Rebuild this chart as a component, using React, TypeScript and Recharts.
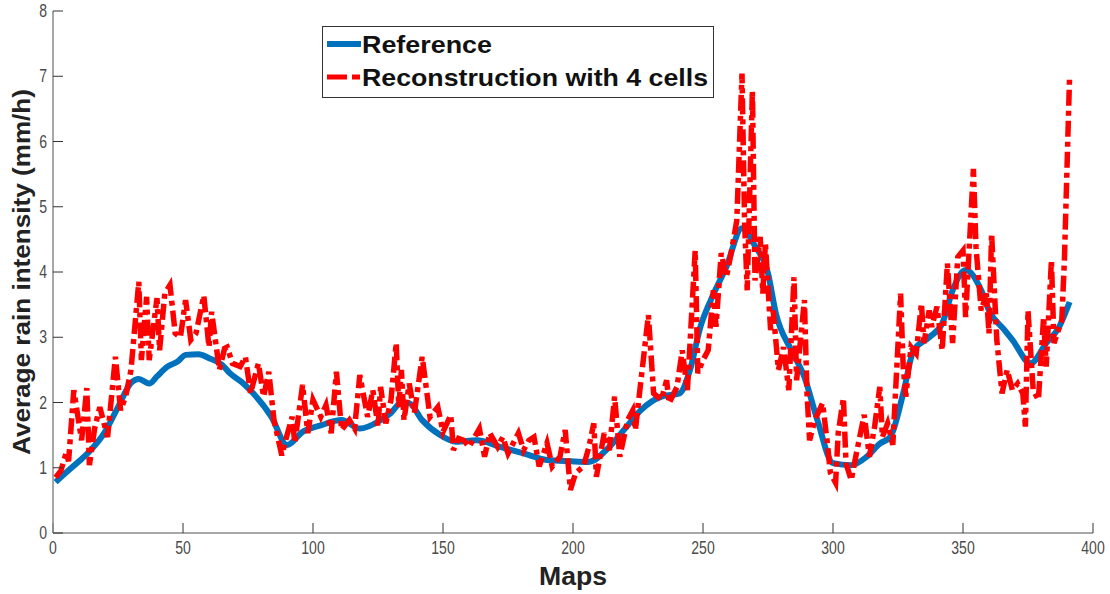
import { LineChart, Line, XAxis, YAxis, Label } from "recharts";

// reference (smooth) series: map index -> mean rain intensity
const referenceMaps = [1, 6, 10, 14, 20, 25, 30, 33, 37, 40, 44, 48, 51, 56, 60, 65, 68, 73, 77, 84, 90, 96, 103, 111, 118, 126, 130, 134, 137, 142, 149, 155, 163, 172, 181, 190, 199, 206, 214, 220, 226, 234, 241, 245, 249, 253, 259, 265, 270, 275, 278, 284, 289, 294, 300, 307, 313, 318, 322, 327, 331, 337, 342, 346, 351, 357, 360, 366, 369, 376, 382, 387, 391];
const referenceIntensity = [0.78, 0.96, 1.1, 1.25, 1.55, 1.93, 2.3, 2.36, 2.29, 2.4, 2.55, 2.63, 2.73, 2.74, 2.68, 2.58, 2.45, 2.3, 2.14, 1.78, 1.35, 1.55, 1.65, 1.73, 1.6, 1.73, 1.84, 2.0, 1.99, 1.73, 1.5, 1.4, 1.42, 1.32, 1.22, 1.12, 1.1, 1.09, 1.32, 1.6, 1.88, 2.09, 2.14, 2.5, 3.16, 3.57, 4.08, 4.67, 4.4, 3.98, 3.37, 2.8, 2.39, 1.73, 1.07, 1.04, 1.17, 1.37, 1.47, 2.14, 2.8, 3.0, 3.21, 3.72, 4.03, 3.72, 3.41, 3.11, 2.96, 2.6, 2.91, 3.16, 3.54];

// reconstruction from 4 cells
const reconMaps = [1, 3, 5, 6, 8, 11, 13, 14, 16, 18, 21, 24, 26, 28, 30, 33, 34, 36, 37, 40, 41, 43, 45, 47, 49, 51, 53, 55, 58, 60, 61, 64, 66, 67, 69, 72, 74, 76, 79, 81, 83, 85, 88, 90, 92, 93, 96, 98, 100, 103, 105, 107, 109, 111, 114, 116, 118, 121, 123, 125, 126, 128, 130, 132, 133, 134, 135, 137, 139, 142, 144, 145, 148, 150, 153, 154, 156, 158, 160, 164, 166, 168, 171, 173, 175, 179, 181, 183, 185, 187, 190, 192, 195, 197, 199, 201, 204, 206, 208, 209, 212, 214, 216, 218, 221, 223, 224, 226, 229, 231, 234, 236, 237, 240, 242, 244, 247, 248, 250, 252, 254, 255, 257, 259, 261, 263, 265, 266, 267, 269, 270, 272, 273, 274, 276, 277, 279, 281, 283, 285, 286, 289, 290, 291, 293, 296, 298, 299, 301, 302, 304, 305, 307, 309, 312, 314, 316, 318, 319, 321, 323, 326, 327, 328, 330, 332, 334, 335, 337, 338, 340, 342, 344, 346, 348, 350, 351, 354, 355, 357, 359, 360, 361, 363, 365, 367, 369, 371, 373, 374, 375, 377, 379, 381, 382, 384, 385, 388, 389, 391];
const reconIntensity = [0.85, 0.95, 1.22, 1.1, 2.19, 1.42, 2.22, 1.04, 1.6, 1.93, 1.47, 2.7, 1.88, 2.1, 2.5, 3.85, 2.65, 3.62, 2.65, 3.6, 2.8, 3.67, 3.8, 3.06, 3.0, 3.57, 2.96, 3.06, 3.64, 2.85, 3.39, 2.5, 2.83, 2.85, 2.6, 2.55, 2.7, 2.14, 2.6, 2.09, 2.47, 1.73, 1.19, 1.5, 1.78, 1.38, 2.27, 1.53, 2.04, 1.78, 1.96, 1.53, 2.47, 1.58, 1.73, 1.6, 2.42, 1.78, 2.19, 1.63, 2.24, 1.68, 2.04, 2.91, 1.93, 2.5, 1.73, 2.29, 1.84, 2.7, 2.09, 1.78, 1.93, 1.55, 1.81, 1.27, 1.45, 1.42, 1.32, 1.6, 1.17, 1.53, 1.32, 1.47, 1.22, 1.53, 1.27, 1.42, 1.47, 1.02, 1.38, 1.02, 1.17, 1.58, 0.66, 0.92, 1.02, 1.3, 1.68, 0.86, 1.53, 1.27, 2.09, 1.17, 1.73, 1.88, 1.58, 2.29, 3.34, 2.14, 2.04, 2.34, 1.99, 2.24, 2.8, 2.19, 4.33, 2.45, 2.65, 2.8, 3.72, 3.16, 4.29, 3.92, 4.33, 4.79, 7.04, 4.75, 3.72, 6.78, 3.87, 4.54, 3.67, 4.44, 3.11, 3.41, 2.5, 2.85, 2.19, 3.92, 2.34, 3.57, 2.14, 1.42, 1.73, 1.99, 1.32, 0.92, 0.77, 1.53, 2.07, 1.07, 0.81, 1.22, 1.81, 1.17, 1.63, 2.24, 1.47, 1.68, 1.35, 3.67, 2.55, 2.09, 2.85, 2.75, 3.52, 2.91, 3.41, 3.16, 3.47, 2.8, 4.13, 2.91, 4.23, 4.33, 3.31, 5.58, 4.38, 3.41, 3.67, 3.06, 4.59, 2.96, 2.14, 2.5, 2.19, 2.29, 2.14, 1.63, 3.41, 2.19, 2.04, 3.31, 2.55, 4.18, 2.91, 3.26, 4.18, 7.01];

const xTicks = [0, 50, 100, 150, 200, 250, 300, 350, 400];
const yTicks = [0, 1, 2, 3, 4, 5, 6, 7, 8];

const seriesNames = ["Reference", "Reconstruction with 4 cells"];

const BLUE = "#0072BD";
const RED = "#FF0000";
const AXIS = "#8a8a8a";
const TITLE_FONT = "'Liberation Sans', Arial, Helvetica, sans-serif";

const referenceData = referenceMaps.map((m, i) => ({ map: m, value: referenceIntensity[i] }));
const reconData = reconMaps.map((m, i) => ({ map: m, value: reconIntensity[i] }));

// condensed tick labels, squeezed horizontally around their anchor point
function NarrowTick(props: any) {
  const { x, y, payload, textAnchor, orientation } = props;
  const dy = orientation === "bottom" ? 14 : 6;
  return (
    <g transform={`translate(${x}, ${y}) scale(0.78, 1)`}>
      <text x={0} y={dy} textAnchor={textAnchor} fill="#4a4a4a" fontSize={18}
        fontFamily={TITLE_FONT}>
        {payload.value}
      </text>
    </g>
  );
}

function XTitle(props: any) {
  const vb = props.viewBox;
  return (
    <text x={vb.x + vb.width / 2} y={vb.y + 52} textAnchor="middle" fontFamily={TITLE_FONT}
      fontWeight="bold" fontSize={26} fill="#222" textLength={68} lengthAdjust="spacingAndGlyphs">
      Maps
    </text>
  );
}

function YTitle(props: any) {
  const vb = props.viewBox;
  const cy = vb.y + vb.height / 2;
  return (
    <text x={0} y={0} transform={`translate(30, ${cy}) rotate(-90)`} textAnchor="middle"
      fontFamily={TITLE_FONT} fontWeight="bold" fontSize={24} fill="#222"
      textLength={366} lengthAdjust="spacingAndGlyphs">
      Average rain intensity (mm/h)
    </text>
  );
}

function LegendBox() {
  return (
    <svg width={392} height={72} style={{ position: "absolute", left: 322, top: 26 }}>
      <rect x={0.5} y={0.5} width={391} height={71} fill="#fff" stroke="#333" strokeWidth={1} />
      <line x1={5} x2={39} y1={18} y2={18} stroke={BLUE} strokeWidth={6} />
      <line x1={5} x2={39} y1={51} y2={51} stroke={RED} strokeWidth={5} strokeDasharray="20 5 8 5" />
      <text x={40} y={27} fontFamily={TITLE_FONT} fontWeight="bold" fontSize={24} fill="#111"
        textLength={130} lengthAdjust="spacingAndGlyphs">{seriesNames[0]}</text>
      <text x={40} y={60} fontFamily={TITLE_FONT} fontWeight="bold" fontSize={24} fill="#111"
        textLength={346} lengthAdjust="spacingAndGlyphs">{seriesNames[1]}</text>
    </svg>
  );
}

export default function App() {
  return (
    <div style={{ position: "absolute", left: 0, top: 0, width: 1110, height: 594, background: "#fff" }}>
      <LineChart width={1110} height={594} margin={{ top: 11, right: 17, left: 0, bottom: 0 }}>
        <XAxis dataKey="map" type="number" domain={[0, 400]} ticks={xTicks} height={61}
          tickSize={-10} tickMargin={17} tick={<NarrowTick />} interval={0}
          axisLine={{ stroke: AXIS, strokeWidth: 1.5 }} tickLine={{ stroke: "#333" }} allowDataOverflow>
          <Label content={<XTitle />} />
        </XAxis>
        <XAxis xAxisId="top" orientation="top" type="number" domain={[0, 400]} ticks={xTicks} height={0}
          tickSize={-10} tickFormatter={() => ""} axisLine={{ stroke: AXIS, strokeWidth: 1.5 }}
          tickLine={{ stroke: "#333" }} />
        <YAxis type="number" domain={[0, 8]} ticks={yTicks} width={53} tickSize={-10} tickMargin={16}
          tick={<NarrowTick />} interval={0} axisLine={{ stroke: AXIS, strokeWidth: 1.5 }}
          tickLine={{ stroke: "#333" }} allowDataOverflow>
          <Label content={<YTitle />} />
        </YAxis>
        <YAxis yAxisId="right" orientation="right" type="number" domain={[0, 8]} ticks={yTicks} width={0}
          tickSize={-10} tickFormatter={() => ""} axisLine={{ stroke: AXIS, strokeWidth: 1.5 }}
          tickLine={{ stroke: "#333" }} />
        <Line data={referenceData} dataKey="value" name={seriesNames[0]} type="monotone" stroke={BLUE}
          strokeWidth={6} dot={false} isAnimationActive={false} strokeLinejoin="round" />
        <Line data={reconData} dataKey="value" name={seriesNames[1]} type="linear" stroke={RED}
          strokeWidth={5.5} strokeDasharray="16 5 5 5" dot={false} isAnimationActive={false} />
      </LineChart>
      <LegendBox />
    </div>
  );
}
